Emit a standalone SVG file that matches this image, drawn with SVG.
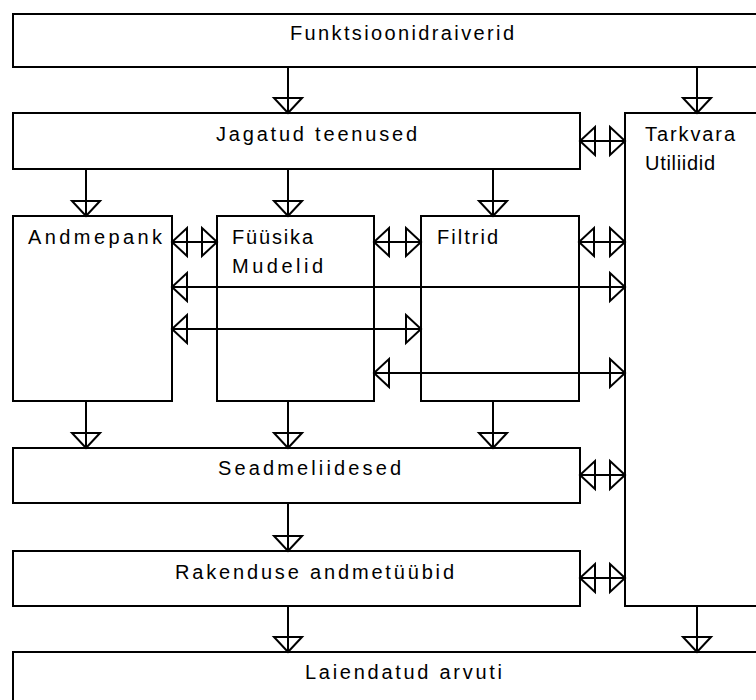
<svg xmlns="http://www.w3.org/2000/svg" width="756" height="700" viewBox="0 0 756 700">
<style>
.box{fill:#fff;stroke:#000;stroke-width:2}
.lbl{font-family:"Liberation Sans",Arial,sans-serif;font-size:20px;fill:#000}
.c{stroke:#000;stroke-width:2;fill:none;marker-end:url(#ah)}
.d{stroke:#000;stroke-width:2;fill:none;marker-start:url(#ah);marker-end:url(#ah)}
</style>
<defs>
<marker id="ah" markerUnits="userSpaceOnUse" markerWidth="20" markerHeight="32" refX="16" refY="15" orient="auto-start-reverse" overflow="visible">
<path d="M1,1 L16,15 L1,29 Z" fill="none" stroke="#000" stroke-width="2"/>
</marker>
</defs>
<rect width="756" height="700" fill="#fff"/>
<g id="funktsioonidraiverid"><rect class="box" x="13" y="14" width="800" height="53"/><text class="lbl" x="290" y="40" textLength="224" lengthAdjust="spacing">Funktsioonidraiverid</text></g>
<g id="jagatud"><rect class="box" x="13" y="113" width="567" height="56"/><text class="lbl" x="216" y="141" textLength="201" lengthAdjust="spacing">Jagatud teenused</text></g>
<g id="tarkvara"><rect class="box" x="625" y="113" width="200" height="493"/><text class="lbl" x="645" y="141" textLength="90" lengthAdjust="spacing">Tarkvara</text><text class="lbl" x="645" y="170" textLength="70" lengthAdjust="spacing">Utiliidid</text></g>
<g id="andmepank"><rect class="box" x="13" y="216" width="159" height="185"/><text class="lbl" x="28" y="244" textLength="134" lengthAdjust="spacing">Andmepank</text></g>
<g id="fuusika"><rect class="box" x="217" y="216" width="157" height="185"/><text class="lbl" x="232" y="244" textLength="81" lengthAdjust="spacing">Füüsika</text><text class="lbl" x="232" y="273" textLength="91" lengthAdjust="spacing">Mudelid</text></g>
<g id="filtrid"><rect class="box" x="421" y="216" width="158" height="185"/><text class="lbl" x="437" y="244" textLength="61" lengthAdjust="spacing">Filtrid</text></g>
<g id="seadmeliidesed"><rect class="box" x="13" y="448" width="567" height="55"/><text class="lbl" x="218" y="475" textLength="183" lengthAdjust="spacing">Seadmeliidesed</text></g>
<g id="rakendus"><rect class="box" x="13" y="551" width="567" height="55"/><text class="lbl" x="175" y="579" textLength="279" lengthAdjust="spacing">Rakenduse andmetüübid</text></g>
<g id="laiendatud"><rect class="box" x="13" y="652" width="800" height="100"/><text class="lbl" x="305" y="679" textLength="197" lengthAdjust="spacing">Laiendatud arvuti</text></g>
<g id="connectors">
<line class="c" x1="288" y1="67" x2="288" y2="113"/>
<line class="c" x1="697" y1="67" x2="697" y2="113"/>
<line class="c" x1="86" y1="169" x2="86" y2="216"/>
<line class="c" x1="288" y1="169" x2="288" y2="216"/>
<line class="c" x1="493" y1="169" x2="493" y2="216"/>
<line class="c" x1="86" y1="401" x2="86" y2="448"/>
<line class="c" x1="288" y1="401" x2="288" y2="448"/>
<line class="c" x1="493" y1="401" x2="493" y2="448"/>
<line class="c" x1="288" y1="503" x2="288" y2="551"/>
<line class="c" x1="288" y1="606" x2="288" y2="652"/>
<line class="c" x1="697" y1="606" x2="697" y2="652"/>
<line class="d" x1="580" y1="141" x2="625" y2="141"/>
<line class="d" x1="172" y1="242" x2="217" y2="242"/>
<line class="d" x1="374" y1="242" x2="421" y2="242"/>
<line class="d" x1="579" y1="242" x2="625" y2="242"/>
<line class="d" x1="172" y1="287" x2="625" y2="287"/>
<line class="d" x1="172" y1="329" x2="421" y2="329"/>
<line class="d" x1="374" y1="373" x2="625" y2="373"/>
<line class="d" x1="580" y1="475" x2="625" y2="475"/>
<line class="d" x1="580" y1="578" x2="625" y2="578"/>
</g>
</svg>
